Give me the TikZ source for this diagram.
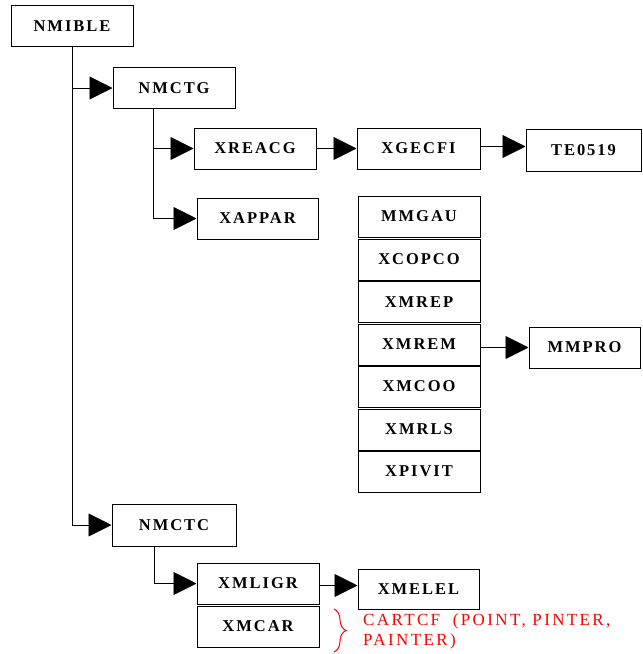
\documentclass[tikz,border=0pt]{standalone}
\usepackage{fontspec}
\setmainfont{Liberation Serif}
\newfontfamily\boxfont[LetterSpace=12]{Liberation Serif Bold}
\newfontfamily\notefont[LetterSpace=14]{Liberation Serif}
\usetikzlibrary{arrows.meta,decorations.pathreplacing}
\begin{document}
\begin{tikzpicture}[x=1pt,y=-1pt,
  box/.style={draw, line width=1pt, minimum width=122pt, minimum height=41pt, inner sep=0pt,
    font=\boxfont\fontsize{16.5}{19}\selectfont},
  conn/.style={line width=0.9pt},
  arr/.style={conn, -{Triangle[length=23pt,width=23pt]}},
  note/.style={text=red, font=\notefont\fontsize{17}{20}\selectfont, align=left, inner sep=0pt}]
\useasboundingbox (0,0) rectangle (643,654);
% boxes
\node[box] (NMIBLE) at (72,26) {NMIBLE};
\node[box] (NMCTG) at (174,88) {NMCTG};
\node[box] (XREACG) at (255,148.5) {XREACG};
\node[box, minimum width=123pt] (XGECFI) at (418.5,148.5) {XGECFI};
\node[box, minimum width=115pt, minimum height=42pt] (TE0519) at (583.5,150) {TE0519};
\node[box, minimum width=121pt] (XAPPAR) at (257.5,218.5) {XAPPAR};
\node[box] (MMGAU) at (419,216.5) {MMGAU};
\node[box] (XCOPCO) at (419,259.5) {XCOPCO};
\node[box] (XMREP) at (419,302) {XMREP};
\node[box] (XMREM) at (419,344.5) {XMREM};
\node[box] (XMCOO) at (419,386.5) {XMCOO};
\node[box] (XMRLS) at (419,429.5) {XMRLS};
\node[box] (XPIVIT) at (419,471.5) {XPIVIT};
\node[box, minimum width=111pt] (MMPRO) at (584.5,347.5) {MMPRO};
\node[box, minimum width=124pt, minimum height=42pt] (NMCTC) at (174,525) {NMCTC};
\node[box] (XMLIGR) at (258,583.5) {XMLIGR};
\node[box] (XMCAR) at (258,626.5) {XMCAR};
\node[box, minimum width=121pt, minimum height=40pt] (XMELEL) at (418.5,589) {XMELEL};
% connectors
\draw[arr] (NMIBLE.south) |- (NMCTC.west);
\draw[arr] (NMIBLE.south |- NMCTG.west) -- (NMCTG.west);
\coordinate (gt) at ([xshift=-21pt]NMCTG.south);
\draw[arr] (gt) |- (XAPPAR.west);
\draw[arr] (gt |- XREACG.west) -- (XREACG.west);
\draw[arr] (XREACG.east) -- (XGECFI.west);
\draw[arr] ([yshift=2pt]XGECFI.east) -- ([yshift=2pt]XGECFI.east -| TE0519.west);
\draw[arr] (XMREM.east |- MMPRO.west) -- (MMPRO.west);
\coordinate (ct) at ([xshift=-20pt]NMCTC.south);
\draw[arr] (ct) |- (XMLIGR.west);
\draw[arr] ([yshift=-2pt]XMLIGR.east) -- ([yshift=-2pt]XMLIGR.east -| XMELEL.west);
% note
\coordinate (bt) at (334,609);
\coordinate (bb) at (334,652);
\draw[red, line width=1pt, decorate, decoration={brace, amplitude=12pt}] (bt) -- (bb);
\node[note, anchor=north west] (cf) at (363,613) {CARTCF\hspace{6pt} (POINT, PINTER,\\PAINTER)};
\end{tikzpicture}
\end{document}
